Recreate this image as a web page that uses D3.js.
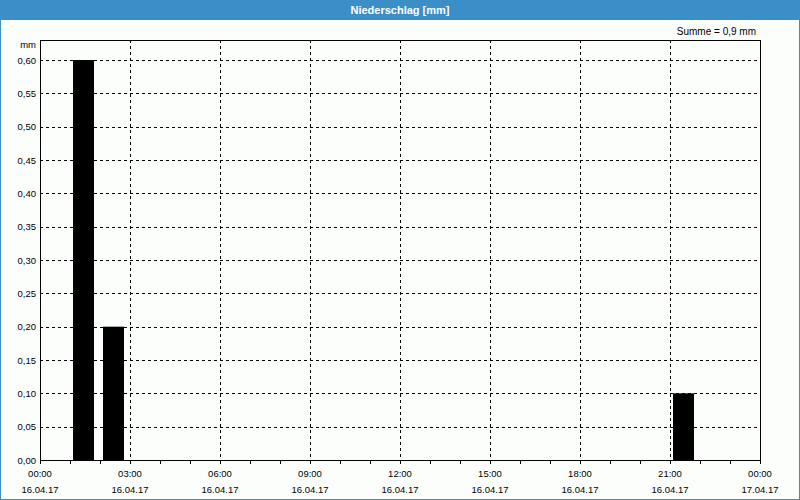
<!DOCTYPE html>
<html><head><meta charset="utf-8">
<script src="https://cdn.jsdelivr.net/npm/d3@7"></script>
<style>
html,body{margin:0;padding:0;background:#fff;}
text{font-family:"Liberation Sans",Arial,sans-serif;}
</style></head>
<body><svg id="c" width="800" height="500"></svg>
<script>
const title = "Niederschlag [mm]";
const sumLabel = "Summe = 0,9 mm";
const unitLabel = "mm";
// hourly precipitation: start hour (of 16.04.17) and value in mm
const barHours = [1, 2, 21];
const barValues = [0.6, 0.2, 0.1];
const yTicks = [0,0.05,0.10,0.15,0.20,0.25,0.30,0.35,0.40,0.45,0.50,0.55,0.60];
const xTickHours = [0,3,6,9,12,15,18,21,24];
const xTimeLabels = ["00:00","03:00","06:00","09:00","12:00","15:00","18:00","21:00","00:00"];
const xDateLabels = ["16.04.17","16.04.17","16.04.17","16.04.17","16.04.17","16.04.17","16.04.17","16.04.17","17.04.17"];
const minorHours = d3.range(0,25);

const svg = d3.select("#c");
const W=800,H=500, L=40, R=760, T=40, B=460;
const blue = "#3c8fc6";
svg.append("rect").attr("x",0).attr("y",0).attr("width",W).attr("height",H).attr("fill","#fcfefc");
svg.append("rect").attr("x",0.5).attr("y",0.5).attr("width",W-1).attr("height",H-1).attr("fill","none").attr("stroke",blue);
svg.append("rect").attr("x",0).attr("y",0).attr("width",W).attr("height",20).attr("fill",blue);
svg.append("text").attr("x",400).attr("y",14).attr("text-anchor","middle").attr("fill","#fff")
  .attr("font-size","11px").attr("font-weight","bold").text(title);
svg.append("text").attr("x",756).attr("y",35).attr("text-anchor","end").attr("fill","#000")
  .attr("font-size","10px").text(sumLabel);

const x = d3.scaleLinear().domain([0,24]).range([L,R]);
const y = d3.scaleLinear().domain([0,0.6]).range([B,60]);

const g = svg.append("g");
// horizontal grid
g.selectAll("line.hg").data(yTicks.filter(d=>d>0)).join("line")
  .attr("x1",L).attr("x2",R).attr("y1",d=>Math.round(y(d))+0.5).attr("y2",d=>Math.round(y(d))+0.5)
  .attr("stroke","#000").attr("stroke-dasharray","3,3");
// vertical grid
g.selectAll("line.vg").data(xTickHours.filter(d=>d>0&&d<24)).join("line")
  .attr("y1",T).attr("y2",B).attr("x1",d=>Math.round(x(d))+0.5).attr("x2",d=>Math.round(x(d))+0.5)
  .attr("stroke","#000").attr("stroke-dasharray","3,3");

// bars
g.selectAll("rect.bar").data(barHours).join("rect")
  .attr("x",(d)=>x(d+0.1)).attr("width",(d)=>x(d+0.8)-x(d+0.1))
  .attr("y",(d,i)=>y(barValues[i])).attr("height",(d,i)=>B-y(barValues[i]))
  .attr("fill","#000");

// frame
svg.append("rect").attr("x",L+0.5).attr("y",T+0.5).attr("width",R-L).attr("height",B-T)
  .attr("fill","none").attr("stroke","#000");

// minor ticks
g.selectAll("line.mt").data(minorHours).join("line")
  .attr("x1",d=>Math.round(x(d))+0.5).attr("x2",d=>Math.round(x(d))+0.5)
  .attr("y1",B).attr("y2",B+4).attr("stroke","#000");

// y labels
g.selectAll("text.yl").data(yTicks).join("text")
  .attr("x",36).attr("y",d=>y(d)+3.5).attr("text-anchor","end").attr("font-size","9.5px").attr("fill","#000")
  .text(d=>d3.format(".2f")(d).replace(".",","));
svg.append("text").attr("x",36).attr("y",48).attr("text-anchor","end").attr("font-size","9.5px").text(unitLabel);

// x labels
g.selectAll("text.xt").data(xTickHours).join("text")
  .attr("x",d=>x(d)).attr("y",477).attr("text-anchor","middle").attr("font-size","9.5px")
  .text((d,i)=>xTimeLabels[i]);
g.selectAll("text.xd").data(xTickHours).join("text")
  .attr("x",d=>x(d)).attr("y",493).attr("text-anchor","middle").attr("font-size","9.5px")
  .text((d,i)=>xDateLabels[i]);
</script></body></html>
